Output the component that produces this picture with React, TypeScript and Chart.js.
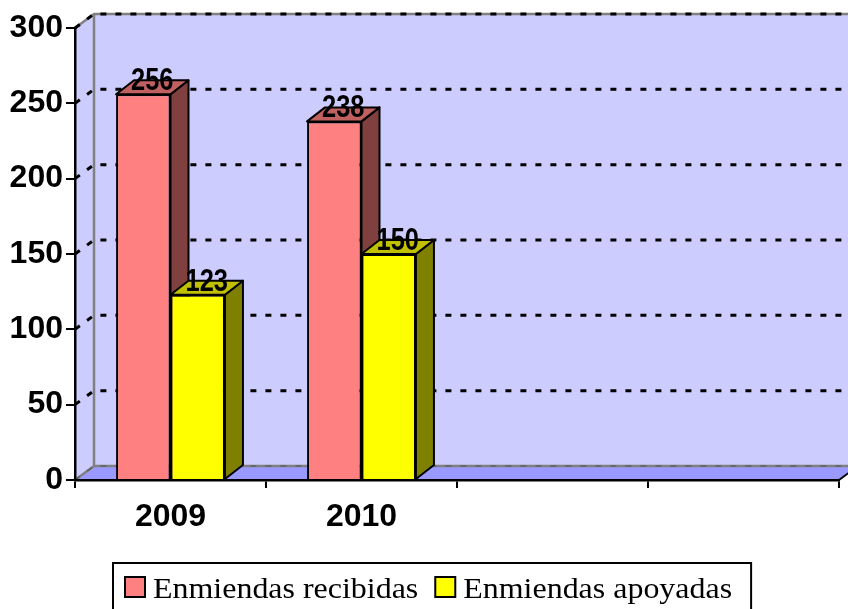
import React, { useEffect, useRef } from 'react';
import { Chart, registerables } from 'chart.js';

Chart.register(...registerables);

const categories = ['2009', '2010', '', ''];
const recibidas: (number | null)[] = [256, 238, null, null];
const apoyadas: (number | null)[] = [123, 150, null, null];
const seriesNames = ['Enmiendas recibidas', 'Enmiendas apoyadas'];
const yMin = 0;
const yMax = 300;
const yStep = 50;

const FRONT = ['#FF8080', '#FFFF00'];
const SIDE = ['#804040', '#808000'];
const TOPC = ['#C06060', '#C0C000'];

const WALL_DX = 19;
const WALL_DY = 14;
const BAR_DX = 18;
const BAR_DY = 14;

const wallsPlugin = {
  id: 'walls3d',
  beforeDraw(chart: any) {
    const { ctx, chartArea } = chart;
    const { left, right, top, bottom } = chartArea;
    const ys = chart.scales.y;
    ctx.save();
    ctx.fillStyle = '#CCCCFF';
    ctx.fillRect(left + WALL_DX, top - WALL_DY, right - left, bottom - top);
    ctx.beginPath();
    ctx.moveTo(left, top);
    ctx.lineTo(left + WALL_DX, top - WALL_DY);
    ctx.lineTo(left + WALL_DX, bottom - WALL_DY);
    ctx.lineTo(left, bottom);
    ctx.closePath();
    ctx.fill();
    ctx.fillStyle = '#9999FF';
    ctx.beginPath();
    ctx.moveTo(left, bottom);
    ctx.lineTo(left + WALL_DX, bottom - WALL_DY);
    ctx.lineTo(right + WALL_DX, bottom - WALL_DY);
    ctx.lineTo(right, bottom);
    ctx.closePath();
    ctx.fill();
    ctx.strokeStyle = '#808080';
    ctx.lineWidth = 2.5;
    ctx.beginPath();
    ctx.moveTo(left, top);
    ctx.lineTo(left + WALL_DX, top - WALL_DY);
    ctx.lineTo(right + WALL_DX, top - WALL_DY);
    ctx.moveTo(left + WALL_DX, top - WALL_DY);
    ctx.lineTo(left + WALL_DX, bottom - WALL_DY);
    ctx.moveTo(left, bottom);
    ctx.lineTo(left + WALL_DX, bottom - WALL_DY);
    ctx.lineTo(right + WALL_DX, bottom - WALL_DY);
    ctx.stroke();
    ctx.strokeStyle = '#000';
    ctx.lineWidth = 2;
    ctx.beginPath();
    ctx.moveTo(right, bottom);
    ctx.lineTo(right + WALL_DX, bottom - WALL_DY);
    ctx.stroke();
    ctx.setLineDash([6, 9]);
    for (let v = yMin; v <= yMax; v += yStep) {
      const y = ys.getPixelForValue(v);
      ctx.strokeStyle = v === 0 ? '#606060' : '#000';
      ctx.lineWidth = v === 0 ? 1.5 : 3;
      ctx.beginPath();
      ctx.moveTo(left, y);
      ctx.lineTo(left + WALL_DX, y - WALL_DY);
      ctx.lineTo(right + WALL_DX, y - WALL_DY);
      ctx.stroke();
    }
    ctx.restore();
  },
};

const barsPlugin = {
  id: 'bars3d',
  beforeDatasetsDraw(chart: any) {
    const { ctx } = chart;
    ctx.save();
    ctx.strokeStyle = '#000';
    ctx.lineWidth = 2;
    ctx.lineJoin = 'round';
    const n = chart.data.labels.length;
    for (let j = 0; j < n; j++) {
      chart.data.datasets.forEach((ds: any, i: number) => {
        if (ds.data[j] == null) return;
        const el = chart.getDatasetMeta(i).data[j];
        const { x, y, base, width } = el.getProps(['x', 'y', 'base', 'width'], true);
        const l = x - width / 2;
        const r = x + width / 2;
        ctx.fillStyle = SIDE[i];
        ctx.beginPath();
        ctx.moveTo(r, y);
        ctx.lineTo(r + BAR_DX, y - BAR_DY);
        ctx.lineTo(r + BAR_DX, base - BAR_DY);
        ctx.lineTo(r, base);
        ctx.closePath();
        ctx.fill();
        ctx.stroke();
        ctx.fillStyle = TOPC[i];
        ctx.beginPath();
        ctx.moveTo(l, y);
        ctx.lineTo(l + BAR_DX, y - BAR_DY);
        ctx.lineTo(r + BAR_DX, y - BAR_DY);
        ctx.lineTo(r, y);
        ctx.closePath();
        ctx.fill();
        ctx.stroke();
      });
    }
    ctx.restore();
  },
  afterDatasetsDraw(chart: any) {
    const { ctx } = chart;
    ctx.save();
    ctx.fillStyle = '#000';
    ctx.font = 'bold 31px "Liberation Sans", Arial, sans-serif';
    ctx.textAlign = 'center';
    ctx.textBaseline = 'alphabetic';
    chart.data.datasets.forEach((ds: any, i: number) => {
      chart.getDatasetMeta(i).data.forEach((el: any, j: number) => {
        const v = ds.data[j];
        if (v == null) return;
        const { x, y } = el.getProps(['x', 'y'], true);
        ctx.save();
        ctx.translate(x + BAR_DX / 2, y - 4);
        ctx.scale(0.82, 1);
        ctx.fillText(String(v), 0, 0);
        ctx.restore();
      });
    });
    ctx.restore();
  },
};

const legendPlugin = {
  id: 'boxLegend',
  afterDraw(chart: any) {
    const { ctx } = chart;
    ctx.save();
    const sx = 1.065;
    ctx.font = '30px "Liberation Serif", "Times New Roman", serif';
    ctx.textBaseline = 'alphabetic';
    ctx.textAlign = 'left';
    const boxTop = 563;
    const sq = 20;
    const sqTop = 577;
    const baseline = 598;
    let x = 125;
    const startX = x;
    chart.data.datasets.forEach((ds: any) => {
      ctx.fillStyle = ds.backgroundColor;
      ctx.fillRect(x, sqTop, sq, sq);
      ctx.strokeStyle = '#000';
      ctx.lineWidth = 2;
      ctx.strokeRect(x, sqTop, sq, sq);
      const tx = x + 28;
      const w = ctx.measureText(ds.label).width * sx;
      ctx.save();
      ctx.translate(tx, baseline);
      ctx.scale(sx, 1);
      ctx.fillStyle = '#000';
      ctx.fillText(ds.label, 0, 0);
      ctx.restore();
      x = tx + w + 17;
    });
    const endX = x - 17 + 19;
    ctx.strokeStyle = '#000';
    ctx.lineWidth = 2;
    ctx.strokeRect(startX - 12, boxTop, endX - (startX - 12), 80);
    ctx.restore();
  },
};

export default function App() {
  const ref = useRef<HTMLCanvasElement | null>(null);
  useEffect(() => {
    if (!ref.current) return;
    const tickFont = { family: '"Liberation Sans", Arial, sans-serif', size: 32, weight: 'bold' as const };
    const chart = new Chart(ref.current, {
      type: 'bar',
      data: {
        labels: categories,
        datasets: [
          {
            label: seriesNames[0],
            data: recibidas,
            backgroundColor: FRONT[0],
            borderColor: '#000',
            borderWidth: 2,
            barPercentage: 1,
            categoryPercentage: 0.57,
          },
          {
            label: seriesNames[1],
            data: apoyadas,
            backgroundColor: FRONT[1],
            borderColor: '#000',
            borderWidth: 2,
            barPercentage: 1,
            categoryPercentage: 0.57,
          },
        ],
      },
      options: {
        responsive: false,
        animation: false,
        devicePixelRatio: 1,
        layout: { padding: { top: 28, right: 9, left: 0, bottom: 0 } },
        plugins: {
          legend: { display: false },
          tooltip: { enabled: false },
        },
        scales: {
          x: {
            offset: true,
            grid: {
              offset: true,
              drawOnChartArea: false,
              drawTicks: true,
              tickLength: 8,
              color: '#000',
              lineWidth: 2,
            },
            border: { display: true, color: '#000', width: 2.5 },
            ticks: {
              color: '#000',
              padding: 10,
              font: tickFont,
              maxRotation: 0,
              autoSkip: false,
            },
            afterFit: (s: any) => {
              s.height = 129;
            },
          },
          y: {
            min: yMin,
            max: yMax,
            ticks: {
              stepSize: yStep,
              color: '#000',
              padding: 3,
              font: tickFont,
            },
            grid: {
              drawOnChartArea: false,
              drawTicks: true,
              tickLength: 9,
              color: '#000',
              lineWidth: 2,
            },
            border: { display: true, color: '#000', width: 2.5 },
            afterFit: (s: any) => {
              s.width = 75;
            },
          },
        },
      },
      plugins: [wallsPlugin, barsPlugin, legendPlugin],
    });
    return () => chart.destroy();
  }, []);
  return (
    <div style={{ position: 'absolute', left: 0, top: 0, width: 848, height: 609, background: '#fff' }}>
      <canvas ref={ref} width={848} height={609} style={{ display: 'block' }} />
    </div>
  );
}
